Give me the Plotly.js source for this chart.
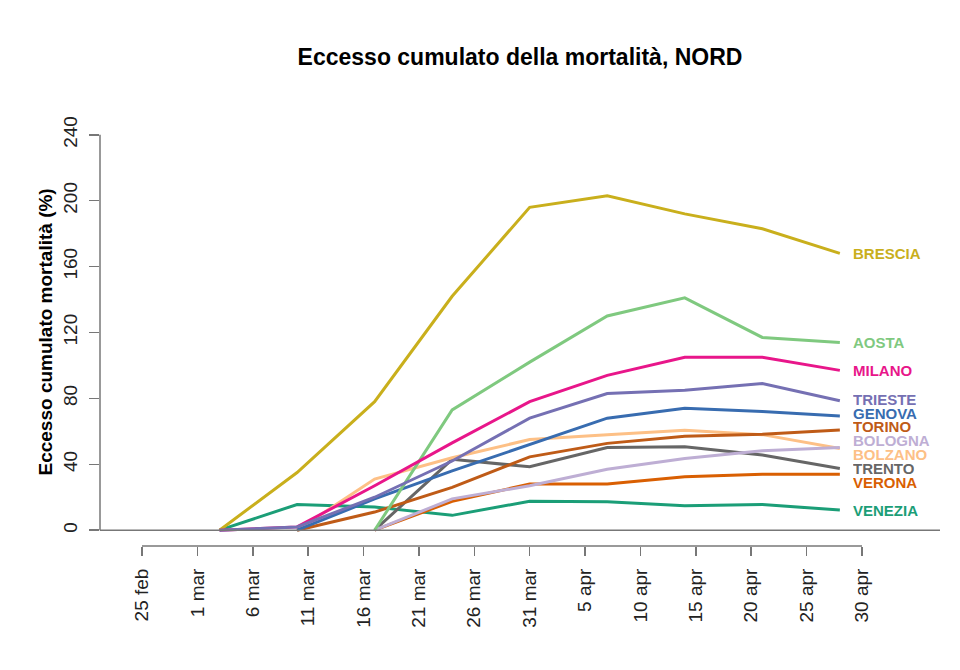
<!DOCTYPE html>
<html>
<head>
<meta charset="utf-8">
<script src="https://cdn.plot.ly/plotly-3.0.1.min.js"></script>
<style>html,body{margin:0;padding:0;background:#fff;}#chart{width:960px;height:670px;}</style>
</head>
<body>
<div id="chart"></div>
<script>
// ---- data ----
const dates = ['2020-03-03','2020-03-10','2020-03-17','2020-03-24','2020-03-31','2020-04-07','2020-04-14','2020-04-21','2020-04-28'];
const cities = ['BRESCIA','AOSTA','MILANO','TRIESTE','GENOVA','TORINO','BOLOGNA','BOLZANO','TRENTO','VERONA','VENEZIA'];
const brescia = [0, 35, 78, 142, 196, 203, 192, 183, 168];
const aosta   = [null, null, 0, 73, 102, 130, 141, 117, 114];
const milano  = [0, 2, 27, 53, 78, 94, 105, 105, 97];
const trieste = [0, 2, 20, 42, 68, 83, 85, 89, 78.6];
const genova  = [null, 0, 19, 36, 52, 68, 74, 72, 69.3];
const torino  = [null, 0, 11, 26, 44.5, 52.7, 57, 58.3, 60.8];
const bologna = [null, null, 0, 19, 27, 37, 43.5, 48.2, 50.2];
const bolzano = [null, 0, 31, 44, 55, 58, 60.7, 58, 49.6];
const trento  = [null, null, 0, 43, 38.5, 50.2, 50.6, 45.6, 37.5];
const verona  = [null, null, 0, 17.5, 28, 28, 32.5, 34, 34];
const venezia = [0, 15.6, 14, 9, 17.6, 17.2, 14.8, 15.6, 12.2];
const colors  = ['#C9AF1C','#7FC97F','#E8168A','#7570B3','#386CB0','#BF5B17','#BEAED4','#FDC086','#666666','#D95F02','#1B9E77'];
const tickDates = ['2020-02-25','2020-03-01','2020-03-06','2020-03-11','2020-03-16','2020-03-21','2020-03-26','2020-03-31','2020-04-05','2020-04-10','2020-04-15','2020-04-20','2020-04-25','2020-04-30'];
const tickText  = ['25 feb','1 mar','6 mar','11 mar','16 mar','21 mar','26 mar','31 mar','5 apr','10 apr','15 apr','20 apr','25 apr','30 apr'];
const yTicks = [0, 40, 80, 120, 160, 200, 240];

const values = [brescia, aosta, milano, trieste, genova, torino, bologna, bolzano, trento, verona, venezia];

// ---- layout geometry ----
const W = 960, H = 670;
const ml = 100, mr = 20, mt = 119, mb = 124;
const tFirst = Date.parse(tickDates[0] + 'T00:00:00Z');
const tLast = Date.parse(tickDates[tickDates.length-1] + 'T00:00:00Z');
const pxFirst = 142, pxLast = 862;
const pxPerMs = (pxLast - pxFirst) / (tLast - tFirst);
const xr0 = tFirst - (pxFirst - ml) / pxPerMs;
const xr1 = tLast + ((W - mr) - pxLast) / pxPerMs;
function fmt(ms){ const d = new Date(ms); const p = n => String(n).padStart(2,'0');
  return d.getUTCFullYear()+'-'+p(d.getUTCMonth()+1)+'-'+p(d.getUTCDate())+' '+p(d.getUTCHours())+':'+p(d.getUTCMinutes())+':'+p(d.getUTCSeconds()); }

// ---- traces ----
const order = [10,9,8,7,6,5,4,1,0,2,3];
const traces = order.map(i => ({
  type: 'scatter', mode: 'lines', x: dates, y: values[i], name: cities[i],
  line: {color: colors[i], width: 3}, connectgaps: false, hoverinfo: 'skip'
}));

// ---- end labels with simple repel ----
const lastVals = values.map(v => v[v.length-1]);
const idx = lastVals.map((v,i)=>i).sort((a,b)=>lastVals[b]-lastVals[a]);
const pos = lastVals.slice();
const minGap = 8.4;
for (let it = 0; it < 2000; it++) {
  for (let k = 0; k < idx.length-1; k++) {
    const a = idx[k], b = idx[k+1];
    const g = pos[a] - pos[b];
    if (g < minGap) { const d = (minGap - g) / 2; pos[a] += d; pos[b] -= d; }
  }
}
const font = 'Liberation Sans, Arial, Helvetica, sans-serif';
const annotations = cities.map((c,i) => ({
  x: dates[dates.length-1], y: pos[i], xref: 'x', yref: 'y', text: c, showarrow: false,
  xanchor: 'left', yanchor: 'middle', xshift: 11, height: 13,
  font: {family: font, size: 15, color: colors[i], weight: 'bold'}
}));
annotations.push({
  xref: 'paper', yref: 'y', x: -(ml - 45) / (W - ml - mr), y: 120, text: 'Eccesso cumulato mortalità (%)',
  textangle: -90, showarrow: false, xanchor: 'center', yanchor: 'middle',
  font: {family: font, size: 19, color: '#000', weight: 'bold'}
});

const axisCol = '#777';
const shapes = [
  {type:'line', xref:'paper', yref:'y', x0:0, x1:1, y0:0, y1:0, line:{color:axisCol, width:1.5}},
  {type:'line', xref:'paper', yref:'y', x0:0, x1:0, y0:yTicks[0], y1:yTicks[yTicks.length-1], line:{color:axisCol, width:1.5}},
  {type:'line', xref:'x', yref:'paper', x0:tickDates[0], x1:tickDates[tickDates.length-1], y0:0, y1:0, line:{color:axisCol, width:1.5}}
];

const layout = {
  width: W, height: H,
  margin: {l: ml, r: mr, t: mt, b: mb, pad: 0},
  paper_bgcolor: '#fff', plot_bgcolor: '#fff',
  showlegend: false,
  title: {text: 'Eccesso cumulato della mortalità, NORD', x: (ml + 420) / W, xanchor: 'center', y: 1 - 57 / H, yanchor: 'middle',
          font: {family: font, size: 23, color: '#000', weight: 'bold'}},
  xaxis: {type: 'date', range: [fmt(xr0), fmt(xr1)], tickvals: tickDates, ticktext: tickText, tickangle: -90,
          ticks: 'outside', ticklen: 9, tickwidth: 1.5, tickcolor: axisCol, showline: false, showgrid: false, zeroline: false,
          tickfont: {family: font, size: 19, color: '#222'}, automargin: false, ticklabelstandoff: 5},
  yaxis: {range: [-9.6, 249.6], tickvals: yTicks, ticktext: yTicks.map(String), tickangle: -90,
          ticks: 'outside', ticklen: 10, tickwidth: 1.5, tickcolor: axisCol, showline: false, showgrid: false, zeroline: false,
          tickfont: {family: font, size: 19, color: '#222'}, automargin: false, ticklabelstandoff: 4},
  annotations: annotations,
  shapes: shapes
};

Plotly.newPlot('chart', traces, layout, {staticPlot: true, displayModeBar: false});
</script>
</body>
</html>
